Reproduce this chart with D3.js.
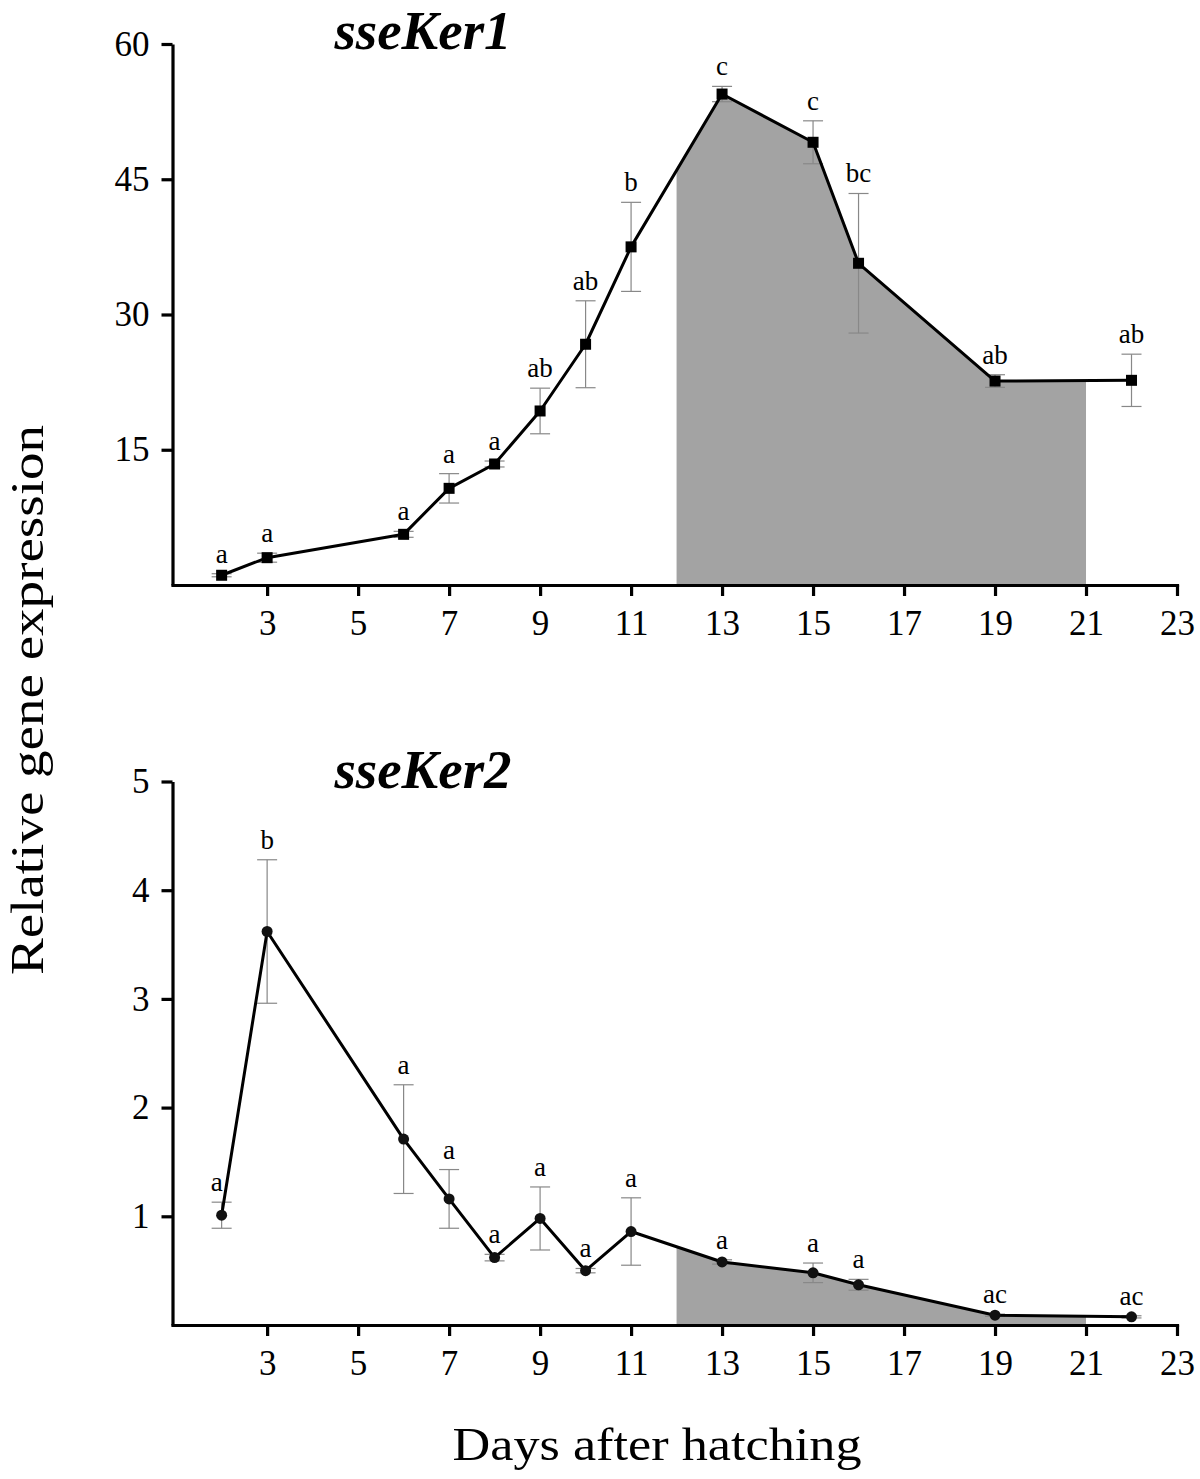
<!DOCTYPE html>
<html>
<head>
<meta charset="utf-8">
<script src="https://cdn.jsdelivr.net/npm/d3@7"></script>
<style>
  html, body { margin: 0; padding: 0; background: #fff; }
  svg { display: block; }
  text { font-family: "Liberation Serif", "Times New Roman", serif; fill: #000; }
</style>
</head>
<body>
<svg id="chart" width="1200" height="1479"></svg>
<script>
// ---------- data ----------
const days = [2, 3, 6, 7, 8, 9, 10, 11, 13, 15, 16, 19, 22];

const ker1Mean    = [1.08, 3.03, 5.62, 10.72, 13.42, 19.3, 26.7, 37.5, 54.45, 49.1, 35.68, 22.62, 22.7];
const ker1Err     = [0.17, 0.5, 0.33, 1.63, 0.33, 2.53, 4.82, 4.94, 0.85, 2.38, 7.74, 0.7, 2.9];
const ker1Letters = ["a", "a", "a", "a", "a", "ab", "ab", "b", "c", "c", "bc", "ab", "ab"];

const ker2Mean    = [1.01, 3.62, 1.71, 1.16, 0.62, 0.98, 0.50, 0.86, 0.58, 0.48, 0.37, 0.09, 0.075];
const ker2Err     = [0.12, 0.66, 0.5, 0.27, 0.03, 0.29, 0.02, 0.31, 0.02, 0.09, 0.05, 0.01, 0.01];
const ker2Letters = ["a", "b", "a", "a", "a", "a", "a", "a", "a", "a", "a", "ac", "ac"];

const xTickValues  = [3, 5, 7, 9, 11, 13, 15, 17, 19, 21, 23];
const ker1Ticks    = [15, 30, 45, 60];
const ker2Ticks    = [1, 2, 3, 4, 5];
const shadeDays    = [12, 21];

const titles = ["sseKer1", "sseKer2"];
const yLabel = "Relative gene expression";
const xLabel = "Days after hatching";

// ---------- layout ----------
const svg = d3.select("#chart");
svg.append("rect").attr("width", 1200).attr("height", 1479).attr("fill", "#fff");

const x = d3.scaleLinear().domain([0.92, 23]).range([172.5, 1177]);

const panels = [
  { title: titles[0], mean: ker1Mean, err: ker1Err, letters: ker1Letters, ticks: ker1Ticks,
    y: d3.scaleLinear().domain([0, 60]).range([585, 44]), marker: "square", titleY: 49 },
  { title: titles[1], mean: ker2Mean, err: ker2Err, letters: ker2Letters, ticks: ker2Ticks,
    y: d3.scaleLinear().domain([0, 5]).range([1325, 781.5]), marker: "circle", titleY: 788 }
];

function valueAt(mean, d) {
  for (let i = 0; i < days.length - 1; i++) {
    if (d >= days[i] && d <= days[i + 1]) {
      const t = (d - days[i]) / (days[i + 1] - days[i]);
      return mean[i] + t * (mean[i + 1] - mean[i]);
    }
  }
  return null;
}

panels.forEach(p => {
  const g = svg.append("g");
  const y = p.y;
  const pts = days.map((d, i) => ({ d, v: p.mean[i], e: p.err[i], l: p.letters[i] }));

  // shaded area between day 12 and 21
  const shadePts = [{ d: shadeDays[0], v: valueAt(p.mean, shadeDays[0]) }]
    .concat(pts.filter(q => q.d > shadeDays[0] && q.d < shadeDays[1]))
    .concat([{ d: shadeDays[1], v: valueAt(p.mean, shadeDays[1]) }]);
  g.append("path")
    .datum(shadePts)
    .attr("fill", "#a3a3a3")
    .attr("d", d3.area().x(q => x(q.d)).y0(y(0)).y1(q => y(q.v)));

  // error bars
  const eb = g.append("g").attr("stroke", "#888").attr("stroke-width", 1.2).attr("fill", "none");
  pts.forEach(q => {
    eb.append("line").attr("x1", x(q.d)).attr("x2", x(q.d)).attr("y1", y(q.v - q.e)).attr("y2", y(q.v + q.e));
    eb.append("line").attr("x1", x(q.d) - 10).attr("x2", x(q.d) + 10).attr("y1", y(q.v + q.e)).attr("y2", y(q.v + q.e));
    eb.append("line").attr("x1", x(q.d) - 10).attr("x2", x(q.d) + 10).attr("y1", y(q.v - q.e)).attr("y2", y(q.v - q.e));
  });

  // axes
  const xa = g.append("g").attr("transform", `translate(0,${y(0)})`)
    .call(d3.axisBottom(x).tickValues(xTickValues).tickSize(11).tickSizeOuter(0).tickPadding(14));
  const ya = g.append("g").attr("transform", `translate(${x.range()[0]},0)`)
    .call(d3.axisLeft(y).tickValues(p.ticks).tickSize(11).tickSizeOuter(0).tickPadding(12).tickFormat(d3.format("d")));
  [xa, ya].forEach(a => {
    a.selectAll("path, line").attr("stroke", "#000").attr("stroke-width", 3.2);
    a.selectAll("text").attr("font-size", 35).attr("font-family", "Liberation Serif").attr("fill", "#000");
  });
  xa.select(".domain").attr("stroke-linecap", "square");

  // line
  g.append("path")
    .datum(pts)
    .attr("fill", "none")
    .attr("stroke", "#000")
    .attr("stroke-width", 3)
    .attr("stroke-linejoin", "round")
    .attr("d", d3.line().x(q => x(q.d)).y(q => y(q.v)));

  // markers
  if (p.marker === "square") {
    g.selectAll(".m").data(pts).enter().append("rect")
      .attr("x", q => x(q.d) - 5.5).attr("y", q => y(q.v) - 5.5)
      .attr("width", 11).attr("height", 11).attr("fill", "#000");
  } else {
    g.selectAll(".m").data(pts).enter().append("circle")
      .attr("cx", q => x(q.d)).attr("cy", q => y(q.v)).attr("r", 5.5).attr("fill", "#111");
  }

  // letters (first point's label sits slightly left of the rising line)
  g.selectAll(".lt").data(pts).enter().append("text")
    .attr("x", (q, i) => x(q.d) - (i === 0 && p.marker === "circle" ? 5 : 0))
    .attr("y", q => y(q.v + q.e) - 11)
    .attr("text-anchor", "middle").attr("font-size", 27)
    .text(q => q.l);

  // title
  g.append("text")
    .attr("x", 423).attr("y", p.titleY)
    .attr("text-anchor", "middle")
    .attr("font-size", 55).attr("font-weight", "bold").attr("font-style", "italic")
    .text(p.title);
});

// axis titles
svg.append("text")
  .attr("transform", "translate(43,700) rotate(-90)")
  .attr("text-anchor", "middle")
  .attr("font-size", 47)
  .attr("textLength", 550).attr("lengthAdjust", "spacingAndGlyphs")
  .text(yLabel);

svg.append("text")
  .attr("x", 657).attr("y", 1460)
  .attr("text-anchor", "middle")
  .attr("font-size", 47)
  .attr("textLength", 409).attr("lengthAdjust", "spacingAndGlyphs")
  .text(xLabel);
</script>
</body>
</html>
